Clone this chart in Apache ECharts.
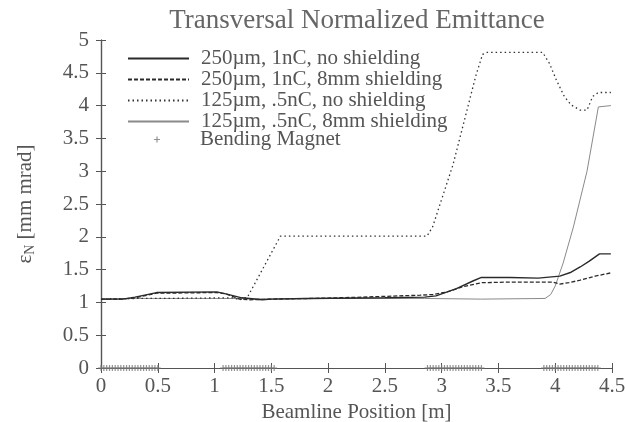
<!DOCTYPE html>
<html>
<head>
<meta charset="utf-8">
<script src="https://cdn.jsdelivr.net/npm/echarts@6/dist/echarts.min.js"></script>
<style>
  html, body { margin: 0; padding: 0; background: #fff; }
  #chart { width: 625px; height: 422px; }
</style>
</head>
<body>
<div id="chart"></div>
<script>
// Beamline position [m] and normalized emittance [mm mrad] for each case
const seriesNames = [
  '250\u00b5m, 1nC, no shielding',
  '250\u00b5m, 1nC, 8mm shielding',
  '125\u00b5m, .5nC, no shielding',
  '125\u00b5m, .5nC, 8mm shielding',
  'Bending Magnet'
];

const posA  = [0, 0.19, 0.3, 0.49, 1.02, 1.1, 1.24, 1.42, 1.5, 1.8, 2.5, 2.85, 2.95, 3.13, 3.28, 3.35, 3.6, 3.85, 4.04, 4.14, 4.22, 4.3, 4.39, 4.49];
const emitA = [1.05, 1.05, 1.08, 1.15, 1.16, 1.13, 1.07, 1.04, 1.05, 1.06, 1.07, 1.08, 1.1, 1.21, 1.33, 1.38, 1.38, 1.37, 1.40, 1.46, 1.54, 1.63, 1.74, 1.74];

const posB  = [0, 0.19, 0.3, 0.49, 1.02, 1.1, 1.22, 1.31, 1.5, 1.85, 2.3, 2.81, 2.92, 3.05, 3.19, 3.35, 3.6, 3.89, 3.98, 4.04, 4.12, 4.22, 4.35, 4.49];
const emitB = [1.05, 1.05, 1.07, 1.14, 1.15, 1.13, 1.05, 1.04, 1.05, 1.06, 1.08, 1.11, 1.12, 1.16, 1.24, 1.30, 1.31, 1.31, 1.31, 1.28, 1.30, 1.34, 1.40, 1.45];

const posC  = [0, 0.3, 0.49, 1.16, 1.22, 1.29, 1.58, 2.0, 2.5, 2.87, 2.92, 3.1, 3.3, 3.36, 3.4, 3.89, 3.95, 4.01, 4.08, 4.14, 4.22, 4.28, 4.33, 4.38, 4.49];
const emitC = [1.05, 1.06, 1.06, 1.07, 1.04, 1.08, 2.01, 2.01, 2.01, 2.01, 2.15, 3.1, 4.45, 4.78, 4.81, 4.81, 4.64, 4.39, 4.14, 4.01, 3.93, 3.93, 4.14, 4.2, 4.2];

const posD  = [0, 0.3, 1.2, 1.4, 2.0, 2.85, 3.35, 3.91, 3.96, 4.0, 4.07, 4.16, 4.28, 4.38, 4.49];
const emitD = [1.05, 1.06, 1.06, 1.05, 1.06, 1.06, 1.05, 1.06, 1.12, 1.25, 1.6, 2.15, 3.0, 3.98, 4.0];

// Bending magnet element positions along the beamline [m]
const magnetPos = [
  0, 0.025, 0.05, 0.075, 0.1, 0.125, 0.15, 0.175, 0.2, 0.225, 0.25, 0.275, 0.3, 0.325, 0.35, 0.375, 0.4, 0.425, 0.45, 0.475, 0.5,
  1.075, 1.1, 1.125, 1.15, 1.175, 1.2, 1.225, 1.25, 1.275, 1.3, 1.325, 1.35, 1.375, 1.4, 1.425, 1.45, 1.475, 1.5, 1.525,
  2.875, 2.9, 2.925, 2.95, 2.975, 3.0, 3.025, 3.05, 3.075, 3.1, 3.125, 3.15, 3.175, 3.2, 3.225, 3.25, 3.275, 3.3, 3.325, 3.35,
  3.9, 3.925, 3.95, 3.975, 4.0, 4.025, 4.05, 4.075, 4.1, 4.125, 4.15, 4.175, 4.2, 4.225, 4.25, 4.275, 4.3, 4.325, 4.35, 4.375
];
const magnetLevel = 0;

const zip = (xs, ys) => xs.map((x, i) => [x, ys[i]]);

const FONT = '"Liberation Serif", "DejaVu Serif", serif';
const TEXT = '#555';
const FRAME = '#555';
const PLUS = 'path://M2,0h1v2h2v1h-2v2h-1v-2h-2v-1h2z';

const chart = echarts.init(document.getElementById('chart'), null, { renderer: 'canvas' });

const axisCommon = {
  min: 0,
  axisLine: { show: true, lineStyle: { color: FRAME, width: 1.2 } },
  axisTick: { show: true, inside: true, length: 5, lineStyle: { color: FRAME, width: 1 } },
  splitLine: { show: false }
};

function lineSeries(name, xs, ys, color, width, type, z) {
  return {
    name, type: 'line', data: zip(xs, ys),
    symbol: 'none', showSymbol: false, z,
    color,
    itemStyle: { color, opacity: 0 },
    lineStyle: { color, width, type }
  };
}

chart.setOption({
  animation: false,
  backgroundColor: '#fff',
  title: {
    text: 'Transversal Normalized Emittance',
    left: 357,
    top: 7,
    padding: 0,
    textAlign: 'center',
    textStyle: { fontFamily: FONT, fontSize: 27, fontWeight: 'normal', color: '#666' }
  },
  grid: { left: 101, right: 13, top: 40, bottom: 54, containLabel: false, outerBoundsMode: 'none' },
  legend: [
    {
      data: seriesNames.slice(0, 4),
      orient: 'vertical',
      left: 127,
      top: 48,
      padding: 0,
      itemWidth: 61,
      itemHeight: 20,
      itemGap: 0,
      itemStyle: { opacity: 0 },
      textStyle: { fontFamily: FONT, fontSize: 21, color: TEXT, lineHeight: 20, padding: [0, 0, 0, 7] }
    },
    {
      data: [{ name: seriesNames[4], icon: PLUS }],
      orient: 'vertical',
      left: 154,
      top: 129,
      padding: 0,
      itemWidth: 6,
      itemHeight: 6,
      itemGap: 0,
      itemStyle: { color: '#777' },
      textStyle: { fontFamily: FONT, fontSize: 21, color: TEXT, lineHeight: 20, padding: [0, 0, 0, 35] }
    }
  ],
  xAxis: [
    Object.assign({}, axisCommon, {
      type: 'value', max: 4.5, interval: 0.5, position: 'bottom',
      name: 'Beamline Position [m]',
      nameLocation: 'middle',
      nameGap: 31,
      nameTextStyle: { fontFamily: FONT, fontSize: 21, color: TEXT },
      axisLabel: { fontFamily: FONT, fontSize: 21, color: TEXT, margin: 8 }
    }),
    Object.assign({}, axisCommon, {
      type: 'value', max: 4.5, interval: 0.5, position: 'top',
      axisLabel: { show: false }
    })
  ],
  yAxis: [
    Object.assign({}, axisCommon, {
      type: 'value', max: 5, interval: 0.5, position: 'left',
      name: '{e|\u03b5}{n|N}{t| [mm mrad]}',
      nameLocation: 'middle',
      nameRotate: 90,
      nameGap: 64,
      nameTextStyle: {
        fontFamily: FONT, color: TEXT,
        rich: {
          e: { fontFamily: FONT, fontSize: 21, color: TEXT, lineHeight: 24, verticalAlign: 'middle' },
          n: { fontFamily: FONT, fontSize: 14, color: TEXT, lineHeight: 14, verticalAlign: 'bottom' },
          t: { fontFamily: FONT, fontSize: 21, color: TEXT, lineHeight: 24, verticalAlign: 'middle' }
        }
      },
      axisLabel: { fontFamily: FONT, fontSize: 21, color: TEXT, margin: 12 }
    }),
    Object.assign({}, axisCommon, {
      type: 'value', max: 5, interval: 0.5, position: 'right',
      axisLabel: { show: false }
    })
  ],
  series: [
    lineSeries(seriesNames[0], posA, emitA, '#2a2a2a', 1.4, 'solid', 4),
    lineSeries(seriesNames[1], posB, emitB, '#2a2a2a', 1.3, [4, 2], 3),
    lineSeries(seriesNames[2], posC, emitC, '#333333', 1.3, [1.5, 3], 3),
    lineSeries(seriesNames[3], posD, emitD, '#8a8a8a', 1, 'solid', 2),
    {
      name: seriesNames[4], type: 'scatter',
      data: magnetPos.map(p => [p, magnetLevel]),
      symbol: PLUS, symbolSize: 6, z: 5,
      itemStyle: { color: '#777' }
    }
  ]
});
</script>
</body>
</html>
